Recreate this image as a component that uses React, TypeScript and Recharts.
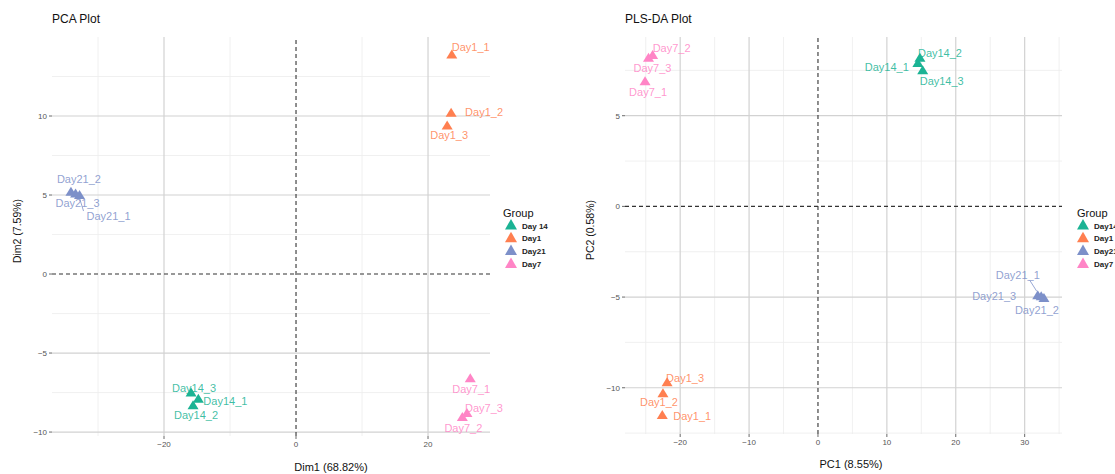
import React from 'react';
import { ScatterChart, Scatter, XAxis, YAxis, ReferenceLine } from 'recharts';

type Pt = { name: string; x: number; y: number };

// ---------- Data ----------
const groups = ['Day14', 'Day1', 'Day21', 'Day7'];
const pcaLegendLabels = ['Day 14', 'Day1', 'Day21', 'Day7'];
const plsLegendLabels = ['Day14', 'Day1', 'Day21', 'Day7'];

const pcaDay14: Pt[] = [
  { name: 'Day14_1', x: -14.8, y: -7.9 },
  { name: 'Day14_2', x: -15.6, y: -8.3 },
  { name: 'Day14_3', x: -15.9, y: -7.5 },
];
const pcaDay1: Pt[] = [
  { name: 'Day1_1', x: 23.6, y: 13.9 },
  { name: 'Day1_2', x: 23.5, y: 10.2 },
  { name: 'Day1_3', x: 22.9, y: 9.4 },
];
const pcaDay21: Pt[] = [
  { name: 'Day21_1', x: -32.8, y: 5.0 },
  { name: 'Day21_2', x: -34.1, y: 5.2 },
  { name: 'Day21_3', x: -33.4, y: 5.1 },
];
const pcaDay7: Pt[] = [
  { name: 'Day7_1', x: 26.4, y: -6.6 },
  { name: 'Day7_2', x: 25.2, y: -9.05 },
  { name: 'Day7_3', x: 25.9, y: -8.8 },
];

const plsDay14: Pt[] = [
  { name: 'Day14_1', x: 14.5, y: 7.9 },
  { name: 'Day14_2', x: 14.8, y: 8.2 },
  { name: 'Day14_3', x: 15.2, y: 7.5 },
];
const plsDay1: Pt[] = [
  { name: 'Day1_1', x: -22.6, y: -11.5 },
  { name: 'Day1_2', x: -22.5, y: -10.3 },
  { name: 'Day1_3', x: -21.9, y: -9.7 },
];
const plsDay21: Pt[] = [
  { name: 'Day21_1', x: 31.9, y: -4.9 },
  { name: 'Day21_2', x: 32.8, y: -5.05 },
  { name: 'Day21_3', x: 32.4, y: -4.95 },
];
const plsDay7: Pt[] = [
  { name: 'Day7_1', x: -25.1, y: 6.9 },
  { name: 'Day7_2', x: -24.0, y: 8.35 },
  { name: 'Day7_3', x: -24.6, y: 8.2 },
];

const pcaXTicks = [-20, 0, 20];
const pcaYTicks = [-10, -5, 0, 5, 10];
const plsXTicks = [-20, -10, 0, 10, 20, 30];
const plsYTicks = [-10, -5, 0, 5];

// ---------- Styles ----------
const colors = ['#1bb394', '#ff7f50', '#7d90c9', '#ff85c6'];
const FONT = '"Liberation Sans", Arial, Helvetica, sans-serif';

// label placement (pixel offsets from the marker, like ggrepel result)
const labelPos: Record<string, [number, number, 'start' | 'middle' | 'end']> = {
  'pca:Day1_1': [0, -7, 'start'],
  'pca:Day1_2': [14, -1, 'start'],
  'pca:Day1_3': [2, 10, 'middle'],
  'pca:Day21_2': [8, -13, 'middle'],
  'pca:Day21_3': [2, 10, 'middle'],
  'pca:Day21_1': [7, 21, 'start'],
  'pca:Day14_3': [3, -5, 'middle'],
  'pca:Day14_1': [5, 2, 'start'],
  'pca:Day14_2': [3, 10, 'middle'],
  'pca:Day7_1': [1, 11, 'middle'],
  'pca:Day7_3': [-2, -5, 'start'],
  'pca:Day7_2': [1, 11, 'middle'],
  'pls:Day7_2': [0, -7, 'start'],
  'pls:Day7_3': [4, 10, 'middle'],
  'pls:Day7_1': [3, 11, 'middle'],
  'pls:Day14_2': [-2, -5, 'start'],
  'pls:Day14_1': [-9, 4, 'end'],
  'pls:Day14_3': [-3, 11, 'start'],
  'pls:Day21_1': [-20, -20, 'middle'],
  'pls:Day21_3': [-25, 0, 'end'],
  'pls:Day21_2': [-7, 12, 'middle'],
  'pls:Day1_3': [-1, -4, 'start'],
  'pls:Day1_2': [-4, 9, 'middle'],
  'pls:Day1_1': [11, 1, 'start'],
};
const leaders: Record<string, [number, number, number, number]> = {
  'pca:Day21_1': [0, 3, 4, 16],
  'pls:Day21_1': [-8, -15, -1, -4],
};

const makeShape = (plot: string, color: string) => (props: any) => {
  const { cx, cy, payload } = props;
  if (cx == null || cy == null) return <g />;
  const key = plot + ':' + payload.name;
  const [dx, dy, anchor] = labelPos[key] ?? [0, -10, 'middle'];
  const lead = leaders[key];
  return (
    <g>
      {lead && (
        <line
          x1={cx + lead[0]}
          y1={cy + lead[1]}
          x2={cx + lead[2]}
          y2={cy + lead[3]}
          stroke={color}
          strokeWidth={0.8}
        />
      )}
      <polygon
        points={`${cx},${cy - 5} ${cx - 5.5},${cy + 4} ${cx + 5.5},${cy + 4}`}
        fill={color}
      />
      <text
        x={cx + dx}
        y={cy + dy}
        textAnchor={anchor}
        dominantBaseline="central"
        fontSize={11}
        fill={color}
        fillOpacity={0.85}
        fontFamily={FONT}
      >
        {payload.name}
      </text>
    </g>
  );
};

const fmt = (v: number) => (v < 0 ? '\u2212' + Math.abs(v) : String(v));

type PanelProps = {
  plot: string;
  width: number;
  margin: { top: number; right: number; bottom: number; left: number };
  xDomain: [number, number];
  yDomain: [number, number];
  xTicks: number[];
  yTicks: number[];
  xMinor: number[];
  yMinor: number[];
  series: Pt[][];
};

const Panel = (p: PanelProps) => {
  const xMajor = p.xTicks.filter((v) => v !== 0);
  const yMajor = p.yTicks.filter((v) => v !== 0);
  return (
    <ScatterChart width={p.width} height={474} margin={p.margin} style={{ overflow: 'visible' }}>
      <XAxis
        dataKey="x"
        type="number"
        domain={p.xDomain}
        ticks={p.xTicks}
        tickFormatter={fmt}
        height={20}
        axisLine={false}
        tickSize={3}
        tickLine={{ stroke: '#444', strokeWidth: 0.8 }}
        tick={{ fontSize: 8, fill: '#555', fontFamily: FONT }}
      />
      <YAxis
        dataKey="y"
        type="number"
        domain={p.yDomain}
        ticks={p.yTicks}
        tickFormatter={fmt}
        width={40}
        axisLine={false}
        tickSize={3}
        tickLine={{ stroke: '#444', strokeWidth: 0.8 }}
        tick={{ fontSize: 8, fill: '#555', fontFamily: FONT }}
      />
      {p.xMinor.map((v) => (
        <ReferenceLine key={'xm' + v} x={v} stroke="#ececec" strokeWidth={0.8} />
      ))}
      {p.yMinor.map((v) => (
        <ReferenceLine key={'ym' + v} y={v} stroke="#ececec" strokeWidth={0.8} />
      ))}
      {xMajor.map((v) => (
        <ReferenceLine key={'xM' + v} x={v} stroke="#d2d2d2" strokeWidth={1.2} />
      ))}
      {yMajor.map((v) => (
        <ReferenceLine key={'yM' + v} y={v} stroke="#d2d2d2" strokeWidth={1.2} />
      ))}
      <ReferenceLine x={0} stroke="#333" strokeWidth={1.1} strokeDasharray="4 3" />
      <ReferenceLine y={0} stroke="#333" strokeWidth={1.1} strokeDasharray="4 3" />
      {p.series.map((s, i) => (
        <Scatter
          key={groups[i]}
          name={groups[i]}
          data={s}
          fill={colors[i]}
          isAnimationActive={false}
          shape={makeShape(p.plot, colors[i])}
        />
      ))}
    </ScatterChart>
  );
};

const Legend = ({ x, tx, labels }: { x: number; tx: number; labels: string[] }) => (
  <g>
    <text x={x} y={213} dominantBaseline="central" fontSize={11} fill="#111" fontFamily={FONT}>
      Group
    </text>
    {labels.map((l, i) => {
      const cy = 225 + i * 12.8;
      const cx = tx - 11;
      return (
        <g key={l}>
          <polygon
            points={`${cx},${cy - 6} ${cx - 6},${cy + 4.5} ${cx + 6},${cy + 4.5}`}
            fill={colors[i]}
          />
          <text
            x={tx}
            y={cy + 1}
            dominantBaseline="central"
            fontSize={8}
            fontWeight={600}
            fill="#222"
            fontFamily={FONT}
          >
            {l}
          </text>
        </g>
      );
    })}
  </g>
);

export default function App() {
  return (
    <div
      style={{
        position: 'absolute',
        left: 0,
        top: 0,
        width: 1115,
        height: 474,
        background: '#fff',
        overflow: 'hidden',
        fontFamily: FONT,
      }}
    >
      <div style={{ position: 'absolute', left: 0, top: 0 }}>
        <Panel
          plot="pca"
          width={560}
          margin={{ top: 37, right: 70, bottom: 18, left: 12 }}
          xDomain={[-36.97, 29.39]}
          yDomain={[-10.25, 15]}
          xTicks={pcaXTicks}
          yTicks={pcaYTicks}
          xMinor={[-30, -10, 10]}
          yMinor={[12.5, 7.5, 2.5, -2.5, -7.5]}
          series={[pcaDay14, pcaDay1, pcaDay21, pcaDay7]}
        />
      </div>
      <div style={{ position: 'absolute', left: 560, top: 0 }}>
        <Panel
          plot="pls"
          width={512}
          margin={{ top: 37, right: 10, bottom: 20, left: 25 }}
          xDomain={[-28.01, 35.42]}
          yDomain={[-12.55, 9.34]}
          xTicks={plsXTicks}
          yTicks={plsYTicks}
          xMinor={[-25, -15, -5, 5, 15, 25, 35]}
          yMinor={[7.5, 2.5, -2.5, -7.5, -12.5]}
          series={[plsDay14, plsDay1, plsDay21, plsDay7]}
        />
      </div>
      <svg
        width={1115}
        height={474}
        style={{ position: 'absolute', left: 0, top: 0, pointerEvents: 'none' }}
      >
        <text x={52} y={19} dominantBaseline="central" fontSize={12} fill="#111" fontFamily={FONT}>
          PCA Plot
        </text>
        <text x={625} y={19} dominantBaseline="central" fontSize={12} fill="#111" fontFamily={FONT}>
          PLS-DA Plot
        </text>
        <text x={331} y={467} textAnchor="middle" dominantBaseline="central" fontSize={11} fill="#111" fontFamily={FONT}>
          Dim1 (68.82%)
        </text>
        <text x={851} y={463.5} textAnchor="middle" dominantBaseline="central" fontSize={11} fill="#111" fontFamily={FONT}>
          PC1 (8.55%)
        </text>
        <text
          x={17}
          y={231}
          transform="rotate(-90 17 231)"
          textAnchor="middle"
          dominantBaseline="central"
          fontSize={10.5}
          fill="#111"
          fontFamily={FONT}
        >
          Dim2 (7.59%)
        </text>
        <text
          x={590}
          y={230}
          transform="rotate(-90 590 230)"
          textAnchor="middle"
          dominantBaseline="central"
          fontSize={10.5}
          fill="#111"
          fontFamily={FONT}
        >
          PC2 (0.58%)
        </text>
        <Legend x={503} tx={522} labels={pcaLegendLabels} />
        <Legend x={1077} tx={1094} labels={plsLegendLabels} />
      </svg>
    </div>
  );
}
